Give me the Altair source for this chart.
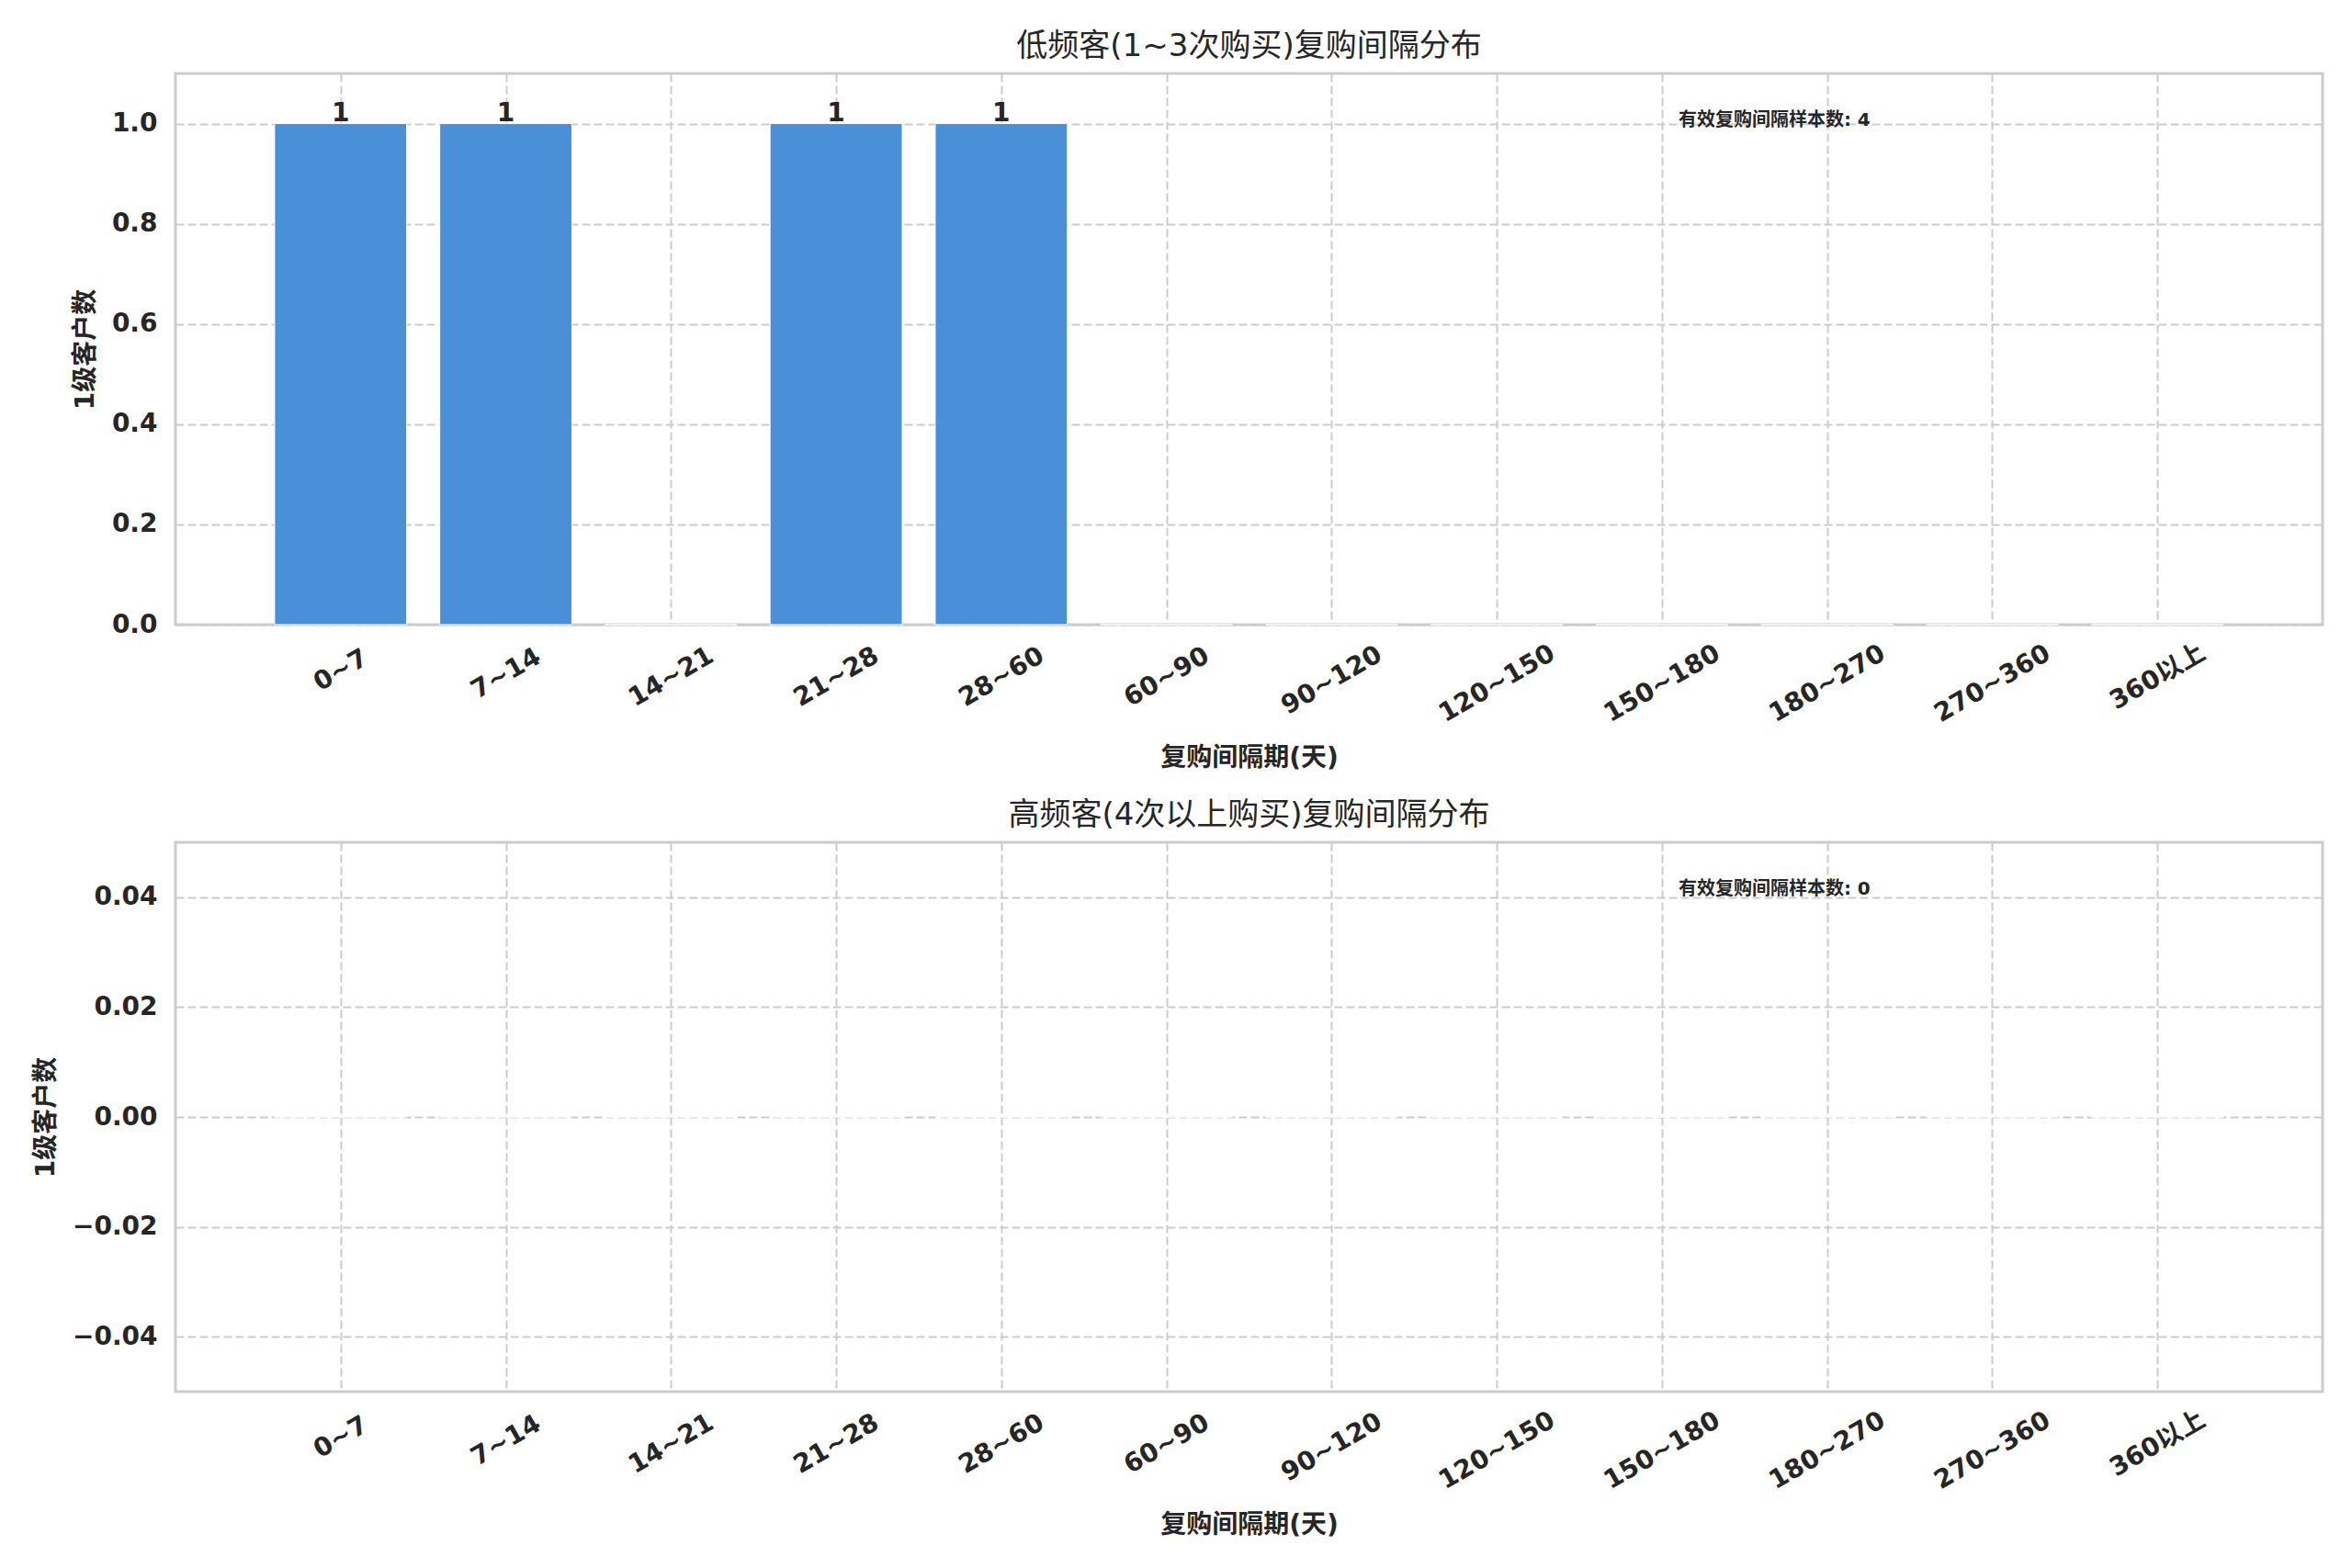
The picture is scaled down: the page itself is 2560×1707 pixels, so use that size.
import json
import altair as alt
import pandas as pd

# ---- data ----
categories = ["0~7", "7~14", "14~21", "21~28", "28~60", "60~90", "90~120",
              "120~150", "150~180", "180~270", "270~360", "360以上"]
low_counts = [1, 1, 0, 1, 1, 0, 0, 0, 0, 0, 0, 0]
high_counts = [0, 0, 0, 0, 0, 0, 0, 0, 0, 0, 0, 0]
panel_titles = ["低频客(1~3次购买)复购间隔分布", "高频客(4次以上购买)复购间隔分布"]
y_title = "1级客户数"
x_title = "复购间隔期(天)"
ann_prefix = "有效复购间隔样本数"
low_yticks = [0.0, 0.2, 0.4, 0.6, 0.8, 1.0]
high_yticks = [-0.04, -0.02, 0.0, 0.02, 0.04]

FONT = "DejaVu Sans, Noto Sans CJK SC"
TEXT = "#262626"
BAR = "#4A90D9"

cats_js = json.dumps(categories, ensure_ascii=False)
XDOM = [-1, 12]


def panel(counts, title, ydomain, yticks, yfmt, height):
    df = pd.DataFrame({"idx": list(range(len(categories))), "cat": categories, "count": counts})
    xaxis = alt.Axis(
        values=list(range(len(categories))),
        labelExpr=f"{cats_js}[datum.value]",
        labelAngle=-30,
        labelAlign="center",
        labelBaseline="middle",
        labelPadding={"condition": {"test": "false", "value": 0},
                      "expr": f"39 + 3.6*length({cats_js}[datum.value])"},
        grid=True,
        titlePadding=20,
    )
    yaxis = alt.Axis(values=yticks, format=yfmt, grid=True, labelPadding=20, titlePadding=14)
    xs = alt.Scale(domain=XDOM, nice=False, zero=False)
    ys = alt.Scale(domain=ydomain, nice=False, zero=False)
    base = alt.Chart(df)
    bars = base.transform_calculate(
        x0="datum.idx - 0.4", x1="datum.idx + 0.4"
    ).mark_bar(color=BAR, stroke="white", strokeWidth=1).encode(
        x=alt.X("x0:Q", scale=xs, axis=xaxis, title=x_title),
        x2="x1:Q",
        y=alt.Y("count:Q", scale=ys, axis=yaxis, title=y_title),
        y2=alt.datum(0),
    )
    labels = base.transform_filter("datum.count > 0").mark_text(
        font=FONT, fontSize=28, fontWeight="bold", color=TEXT, baseline="alphabetic", dy=-3
    ).encode(
        x=alt.X("idx:Q", scale=xs),
        y=alt.Y("count:Q", scale=ys),
        text=alt.Text("count:Q", format="d"),
    )
    ann_x = XDOM[0] + 0.70 * (XDOM[1] - XDOM[0])
    ann_y = ydomain[0] + 0.915 * (ydomain[1] - ydomain[0])
    ann_df = pd.DataFrame({"t": [f"{ann_prefix}: {sum(counts)}"]})
    ann = alt.Chart(ann_df).mark_text(
        font=FONT, fontSize=20, fontWeight="bold", color=TEXT, align="left", baseline="middle"
    ).encode(x=alt.datum(ann_x), y=alt.datum(ann_y), text="t:N")
    return alt.layer(bars, labels, ann).properties(
        width=2337, height=height, title=alt.Title(title)
    )


top = panel(low_counts, panel_titles[0], [0, 1.1], low_yticks, ".1f", 600)
bottom = panel(high_counts, panel_titles[1], [-0.05, 0.05], high_yticks, ".2f", 598)

chart = alt.vconcat(top, bottom, spacing=28).properties(
    padding={"left": 26, "top": 24, "right": 5, "bottom": 5},
    background="white",
).configure_axis(
    labelFont=FONT, labelFontSize=28, labelFontWeight="bold", labelColor=TEXT,
    titleFont=FONT, titleFontSize=28, titleFontWeight="bold", titleColor=TEXT,
    gridColor="#cccccc", gridDash=[9, 4], gridWidth=2,
    domain=False, ticks=False, tickSize=0,
).configure_view(
    stroke="#cccccc", strokeWidth=3
).configure_title(
    font=FONT, fontSize=34, fontWeight="normal", color=TEXT, offset=12
)

chart.save("out.html", embed_options={"renderer": "svg", "actions": False})
